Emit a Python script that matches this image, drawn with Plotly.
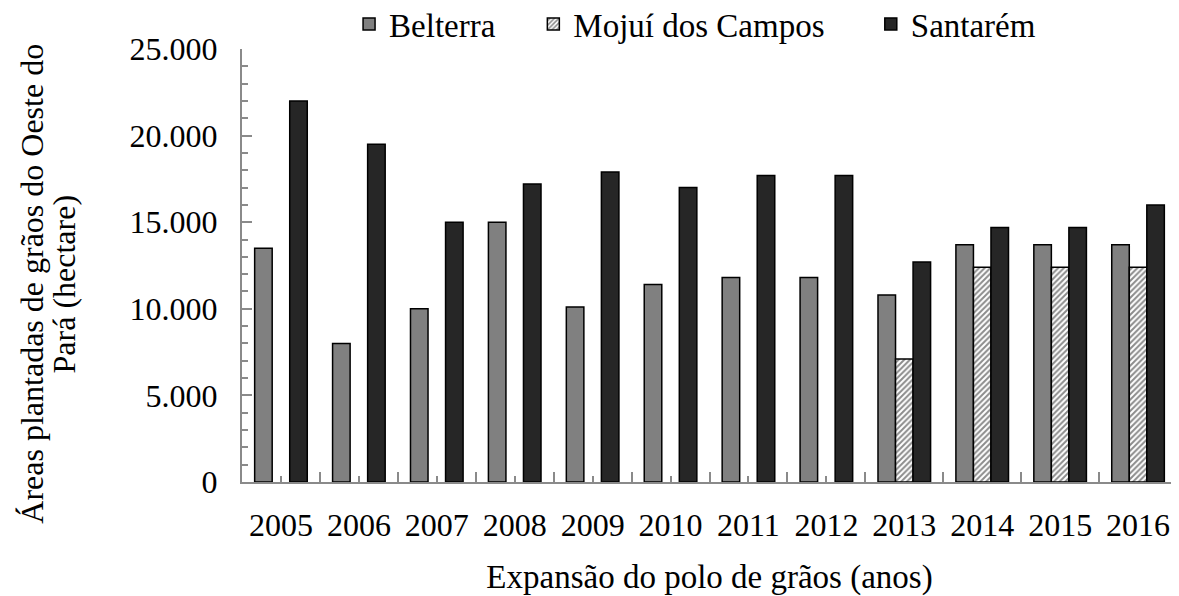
import plotly.graph_objects as go

years = [2005, 2006, 2007, 2008, 2009, 2010,
         2011, 2012, 2013, 2014, 2015, 2016]
belterra = [13500, 8000, 10000, 15000, 10100, 11400,
            11800, 11800, 10800, 13700, 13700, 13700]
mojui = [None, None, None, None, None, None,
         None, None, 7100, 12400, 12400, 12400]
santarem = [22000, 19500, 15000, 17200, 17900, 17000,
            17700, 17700, 12700, 14700, 14700, 16000]

y_title_lines = ["Áreas plantadas de grãos do Oeste do", "Pará (hectare)"]
x_title = "Expansão do polo de grãos (anos)"

FONT = "Liberation Serif"
AXIS_GREY = "#8a8a8a"
BAR_LINE = dict(color="black", width=1.5)
NBSP = "\u00a0"  # pads legend entries to the original spacing

fig = go.Figure()
fig.add_trace(go.Bar(
    x=years, y=belterra, name="Belterra" + NBSP * 4,
    marker=dict(color="#808080", line=BAR_LINE),
))
fig.add_trace(go.Bar(
    x=years, y=mojui, name="Mojuí dos Campos" + NBSP * 5,
    marker=dict(
        color="white",
        line=BAR_LINE,
        pattern=dict(shape="/", fgcolor="#1a1a1a", bgcolor="white",
                     size=4, solidity=0.5),
    ),
))
fig.add_trace(go.Bar(
    x=years, y=santarem, name="Santarém",
    marker=dict(color="#262626", line=BAR_LINE),
))

# the page body has an 8px margin, so the figure is 8px smaller each way
fig.update_layout(
    width=1171,
    height=588,
    barmode="group",
    bargap=0.325,
    bargroupgap=0,
    separators=",.",
    paper_bgcolor="white",
    plot_bgcolor="white",
    font=dict(family=FONT, size=32, color="black"),
    margin=dict(l=234, r=2, t=41, b=114, autoexpand=False),
    showlegend=True,
    legend=dict(
        orientation="h",
        xref="paper", x=0.1145, xanchor="left",
        yref="container", y=0.9728, yanchor="middle",
        font=dict(family=FONT, size=33, color="black"),
        traceorder="normal",
        bgcolor="rgba(0,0,0,0)",
    ),
    xaxis=dict(
        range=[2004.5, 2016.5],
        tick0=2005, dtick=1, tickformat="d",
        tickfont=dict(family=FONT, size=32),
        showline=True, linecolor=AXIS_GREY, linewidth=2,
        ticks="inside", ticklen=6, tickcolor=AXIS_GREY, tickwidth=2,
        minor=dict(tick0=2004.5, dtick=1, ticks="inside", ticklen=10,
                   tickcolor=AXIS_GREY, tickwidth=2, showgrid=False),
        showgrid=False, zeroline=False,
        layer="below traces",
        ticklabelstandoff=14,
        title=dict(text=x_title, font=dict(family=FONT, size=33),
                   standoff=24),
    ),
    yaxis=dict(
        range=[0, 25000],
        dtick=5000,
        tickformat=",d",
        tickfont=dict(family=FONT, size=32),
        showline=True, linecolor=AXIS_GREY, linewidth=2,
        ticks="inside", ticklen=10, tickcolor=AXIS_GREY, tickwidth=2,
        minor=dict(dtick=1000, ticks="inside", ticklen=6,
                   tickcolor=AXIS_GREY, tickwidth=1.5, showgrid=False),
        showgrid=False, zeroline=False,
        ticklabelstandoff=16,
    ),
)

for line, xpos in zip(y_title_lines, [-0.224, -0.190]):
    fig.add_annotation(
        text=line,
        xref="paper", yref="paper",
        x=xpos, y=0.457,
        xanchor="center", yanchor="middle",
        textangle=-90, showarrow=False,
        font=dict(family=FONT, size=32, color="black"),
    )

fig.write_html("out.html")
